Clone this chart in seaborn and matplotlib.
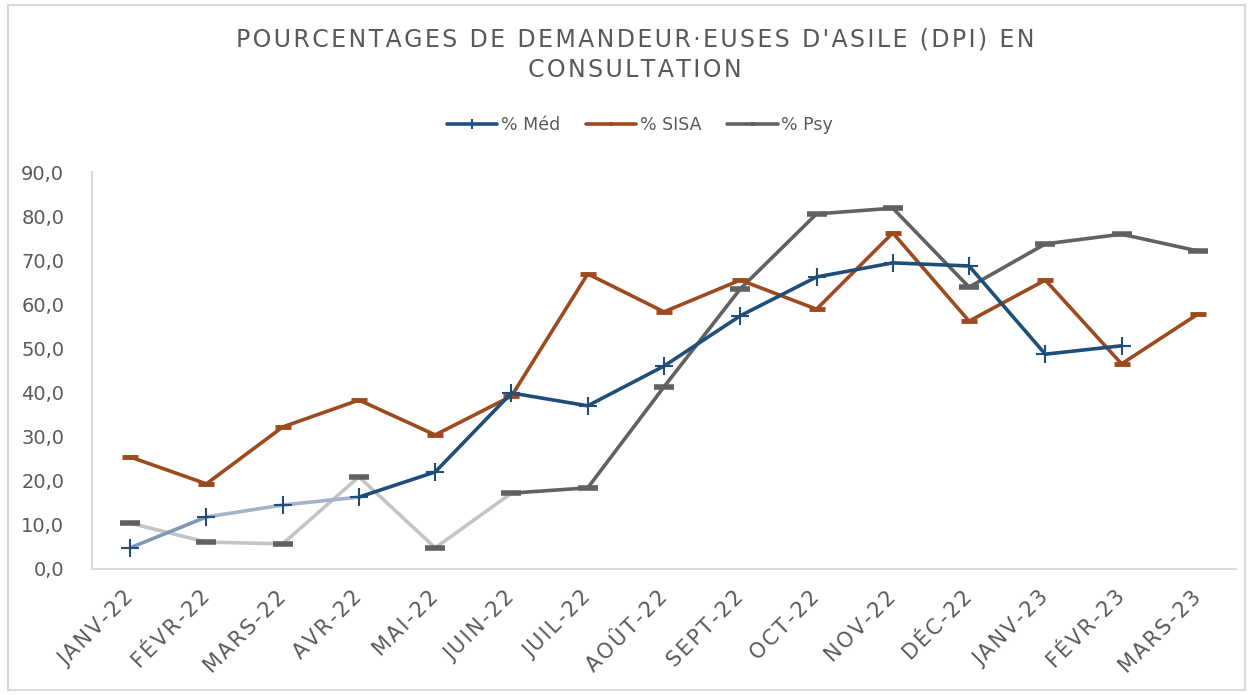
import numpy as np
import pandas as pd
import matplotlib
matplotlib.use("Agg")
import matplotlib.pyplot as plt
import matplotlib.transforms as mtransforms
import seaborn as sns
from matplotlib.lines import Line2D
from matplotlib.patches import Rectangle

months = ["JANV-22", "FÉVR-22", "MARS-22", "AVR-22", "MAI-22", "JUIN-22", "JUIL-22",
          "AOÛT-22", "SEPT-22", "OCT-22", "NOV-22", "DÉC-22", "JANV-23", "FÉVR-23", "MARS-23"]
med = [4.8, 11.8, 14.5, 16.3, 22.0, 39.9, 37.0, 46.0, 57.4, 66.2, 69.4, 68.7, 48.7, 50.6, np.nan]
sisa = [25.4, 19.3, 32.2, 38.3, 30.4, 39.2, 66.9, 58.3, 65.5, 58.9, 76.2, 56.2, 65.5, 46.5, 57.8]
psy = [10.4, 6.1, 5.7, 20.9, 4.8, 17.2, 18.4, 41.3, 63.5, 80.5, 81.8, 63.9, 73.7, 75.9, 72.1]
yticks = [0, 10, 20, 30, 40, 50, 60, 70, 80, 90]
title_lines = ["POURCENTAGES DE DEMANDEUR·EUSES D'ASILE (DPI) EN", "CONSULTATION"]
series_names = ["% Méd", "% SISA", "% Psy"]

C_MED = "#1f4e79"
C_MED_L1 = "#8198b1"
C_MED_L2 = "#a3b4c8"
C_SISA = "#9c4a1e"
C_PSY = "#5f6163"
C_PSY_L = "#c4c4c4"
TXT = "#595959"

sns.set_theme(style="white")
plt.rcParams['font.family'] = ['DejaVu Sans']

HAIR = "\u200a"


def spaced(s, gap):
    return gap.join(list(s))


df = pd.DataFrame({"x": np.arange(len(months)), "med": med, "sisa": sisa, "psy": psy})

fig = plt.figure(figsize=(12.49, 6.95), dpi=100)

ax = fig.add_axes([92/1249, 1 - 569/695, (1236-92)/1249, (569-172)/695])

lw = 2.6
# Psy: light segment then dark
sns.lineplot(data=df.iloc[0:6], x="x", y="psy", ax=ax, color=C_PSY_L, lw=lw, zorder=1)
sns.lineplot(data=df.iloc[5:], x="x", y="psy", ax=ax, color=C_PSY, lw=lw, zorder=1)
sns.scatterplot(data=df, x="x", y="psy", ax=ax, marker="_", s=200, color=C_PSY,
                linewidth=4, zorder=2)
# SISA
sns.lineplot(data=df, x="x", y="sisa", ax=ax, color=C_SISA, lw=lw, zorder=3)
sns.scatterplot(data=df, x="x", y="sisa", ax=ax, marker="_", s=130, color=C_SISA,
                linewidth=3.5, zorder=4)
# Med
sns.lineplot(data=df.iloc[0:2], x="x", y="med", ax=ax, color=C_MED_L1, lw=lw, zorder=5)
sns.lineplot(data=df.iloc[1:4], x="x", y="med", ax=ax, color=C_MED_L2, lw=lw, zorder=5)
sns.lineplot(data=df.iloc[3:], x="x", y="med", ax=ax, color=C_MED, lw=lw, zorder=5)
sns.scatterplot(data=df.dropna(subset=["med"]), x="x", y="med", ax=ax, marker="+", s=160,
                color=C_MED, linewidth=1.5, zorder=6)

ax.set_xlim(-0.5, len(months) - 0.5)
ax.set_ylim(0, 90)

ax.set_yticks(yticks)
ax.set_yticklabels([f"{v:.1f}".replace(".", ",") for v in yticks],
                   color=TXT, fontsize=14)
ax.set_xticks(np.arange(len(months)))
ax.set_xticklabels([spaced(m, HAIR) for m in months], rotation=45, ha="right",
                   rotation_mode="anchor", color=TXT, fontsize=15)
ax.tick_params(axis="x", length=0, pad=13)
ax.tick_params(axis="y", length=0, pad=20)
shift = mtransforms.ScaledTranslation(-7/100, 0, fig.dpi_scale_trans)
for lab in ax.get_xticklabels():
    lab.set_transform(lab.get_transform() + shift)
ax.set_xlabel("")
ax.set_ylabel("")
for s in ["top", "right"]:
    ax.spines[s].set_visible(False)
for s in ["left", "bottom"]:
    ax.spines[s].set_color("#d9d9d9")
    ax.spines[s].set_linewidth(1.5)
ax.grid(False)
if ax.get_legend():
    ax.get_legend().remove()

fig.text(635/1249, 1 - 40/695, spaced(title_lines[0], HAIR),
         ha="center", va="center", fontsize=17, color=TXT)
fig.text(635/1249, 1 - 70/695, spaced(title_lines[1], HAIR),
         ha="center", va="center", fontsize=17, color=TXT)

handles = [
    Line2D([], [], color=C_MED, lw=2.6, marker="|", markersize=7, markeredgewidth=1.5),
    Line2D([], [], color=C_SISA, lw=2.6, marker="|", markersize=3, markeredgewidth=3),
    Line2D([], [], color=C_PSY, lw=2.6, marker="|", markersize=3, markeredgewidth=3),
]
fig.legend(handles, series_names, loc="center",
           bbox_to_anchor=(640/1249, 1 - 125/695), ncol=3, frameon=False,
           fontsize=12.5, labelcolor=TXT, handlelength=2.9, handletextpad=0.2,
           columnspacing=1.5)

fig.add_artist(Rectangle((8/1249, 5/695), 1237/1249, 685/695, transform=fig.transFigure,
                         fill=False, edgecolor="#d9d9d9", lw=1.5))

fig.savefig("out.png", dpi=100)
